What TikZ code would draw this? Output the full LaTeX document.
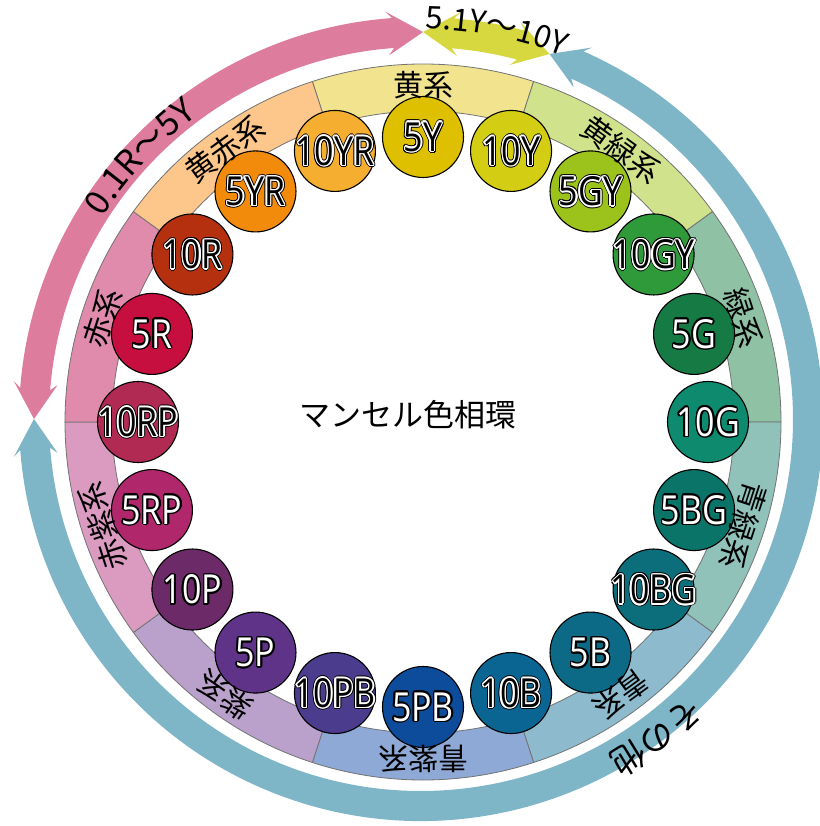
\documentclass[tikz,border=0pt]{standalone}
\usepackage{fontspec}
\usetikzlibrary{decorations.text}
\newfontfamily\jpfont{Noto Sans CJK JP}
\newfontfamily\hueletters[FakeStretch=0.85]{Open Sans}

% segment colours
\definecolor{sY}{HTML}{F2E48F}
\definecolor{sGY}{HTML}{D1E28C}
\definecolor{sG}{HTML}{8FC1A5}
\definecolor{sBG}{HTML}{90C2BA}
\definecolor{sB}{HTML}{8DBBCD}
\definecolor{sPB}{HTML}{8EA9D5}
\definecolor{sP}{HTML}{B9A1CC}
\definecolor{sRP}{HTML}{DB9BC0}
\definecolor{sR}{HTML}{E08BAB}
\definecolor{sYR}{HTML}{FDC68B}
% hue circle colours
\definecolor{h0}{HTML}{DEC000}
\definecolor{h1}{HTML}{D3CD14}
\definecolor{h2}{HTML}{9CC21C}
\definecolor{h3}{HTML}{2F9A3A}
\definecolor{h4}{HTML}{167A45}
\definecolor{h5}{HTML}{0E8B6F}
\definecolor{h6}{HTML}{0B7468}
\definecolor{h7}{HTML}{0B6E7A}
\definecolor{h8}{HTML}{0C6A86}
\definecolor{h9}{HTML}{0B6592}
\definecolor{h10}{HTML}{0D4C9B}
\definecolor{h11}{HTML}{4B3C8D}
\definecolor{h12}{HTML}{5F3387}
\definecolor{h13}{HTML}{6D2A68}
\definecolor{h14}{HTML}{B0286B}
\definecolor{h15}{HTML}{B02A53}
\definecolor{h16}{HTML}{C70F3F}
\definecolor{h17}{HTML}{B5300F}
\definecolor{h18}{HTML}{F28B0B}
\definecolor{h19}{HTML}{F6AE30}
% arrows
\definecolor{arrpink}{HTML}{DD7C9C}
\definecolor{arryel}{HTML}{D7D840}
\definecolor{arrblue}{HTML}{7EB5C7}

\newcommand{\arcarrow}[3]{%
  \pgfmathsetmacro\aAc{#2-\hdc}%
  \pgfmathsetmacro\aAj{#2-\hdj}%
  \pgfmathsetmacro\aBc{#3+\hdc}%
  \pgfmathsetmacro\aBj{#3+\hdj}%
  \fill[#1] (#2:387) -- (\aAc:409) -- (\aAj:402)
    arc[start angle=\aAj, end angle=\aBj, radius=402]
    -- (\aBc:409) -- (#3:387) -- (\aBc:365) -- (\aBj:372)
    arc[start angle=\aBj, end angle=\aAj, radius=372]
    -- (\aAc:365) -- cycle;
}

\tikzset{
  bandseg/.style={draw=black!55, line width=0.8pt},
  hue/.style={circle, minimum size=81pt, inner sep=0pt, draw=black, line width=1.1pt},
  huetext/.style={inner sep=0pt, font=\hueletters\fontsize{40pt}{40pt}\selectfont},
  inkblack/.style={huetext, text=black},
  inkwhite/.style={huetext, text=white},
  seglab/.style={inner sep=0pt, font=\jpfont\fontsize{30pt}{30pt}\selectfont},
  titletext/.style={inner sep=0pt, font=\jpfont\fontsize{31pt}{31pt}\selectfont},
}

\newcommand{\pinkfont}{\jpfont\fontsize{34pt}{34pt}\selectfont}
\newcommand{\yelfont}{\jpfont\fontsize{31pt}{31pt}\selectfont}
\newcommand{\bluefont}{\jpfont\fontsize{34pt}{34pt}\selectfont}

\begin{document}
\begin{tikzpicture}[x=1pt,y=1pt]
\useasboundingbox (-423,-404) rectangle (396,422);
\pgfmathsetmacro\hdc{36/387*180/pi}
\pgfmathsetmacro\hdj{30/387*180/pi}

% outer arrows
\begin{scope}[shift={(-2,3)}]
  \arcarrow{arrpink}{180}{89.7}
  \arcarrow{arryel}{89.7}{70.6}
  \arcarrow{arrblue}{70.6}{-180}
  \path[decorate, decoration={text along path, text align=center,
      text={|\pinkfont|0.1R～5Y}}]
    (178:377) arc[start angle=178, end angle=96, radius=377];
  \path[decorate, decoration={text along path, text align=center,
      text={|\yelfont|5.1Y～10Y}}]
    (100:390) arc[start angle=100, end angle=58, radius=390];
  \path[decorate, decoration={text along path, text align=center,
      text={|\bluefont|その他}}]
    (-18:385) arc[start angle=-18, end angle=-89, radius=385];
\end{scope}

% band segments
\foreach \col [count=\k from 0] in {sY,sGY,sG,sBG,sB,sPB,sP,sRP,sR,sYR} {
  \pgfmathsetmacro\ca{90-36*\k}
  \pgfmathsetmacro\sa{\ca-18}
  \pgfmathsetmacro\ea{\ca+18}
  \filldraw[bandseg, fill=\col] (\sa:311) arc[start angle=\sa, end angle=\ea, radius=311]
    -- (\ea:358) arc[start angle=\ea, end angle=\sa, radius=358] -- cycle;
}

% hue circles
\foreach \k in {0,...,19} {
  \pgfmathsetmacro\ca{90-18*\k}
  \node[hue, fill=h\k] (c\k) at (\ca:285) {};
}

% labels: black letters with white halo and thin black rim
\foreach \k/\lab in {0/5Y,1/10Y,2/5GY,3/10GY,7/10BG,9/10B,11/10PB,15/10RP,17/10R,18/5YR,19/10YR} {
  \foreach \hh in {0,30,...,330}
    \node[inkblack, shift={(\hh:2.4)}] at (c\k.center) {\lab};
  \foreach \hh in {0,30,...,330}
    \node[inkwhite, shift={(\hh:1.4)}] at (c\k.center) {\lab};
  \node[inkblack] (t\k) at (c\k.center) {\lab};
}
% labels: white letters with black rim
\foreach \k/\lab in {4/5G,5/10G,6/5BG,8/5B,10/5PB,12/5P,13/10P,14/5RP,16/5R} {
  \foreach \hh in {0,30,...,330}
    \node[inkblack, shift={(\hh:1.6)}] at (c\k.center) {\lab};
  \node[inkwhite] (t\k) at (c\k.center) {\lab};
}

% segment labels
\foreach \lab [count=\k from 0] in {黄系,黄緑系,緑系,青緑系,青系,青紫系,紫系,赤紫系,赤系,黄赤系} {
  \pgfmathsetmacro\ca{90-36*\k}
  \node[seglab, rotate=\ca-90] (s\k) at (\ca:337) {\lab};
}

\node[titletext] (title) at (-15,7) {マンセル色相環};
\end{tikzpicture}
\end{document}
